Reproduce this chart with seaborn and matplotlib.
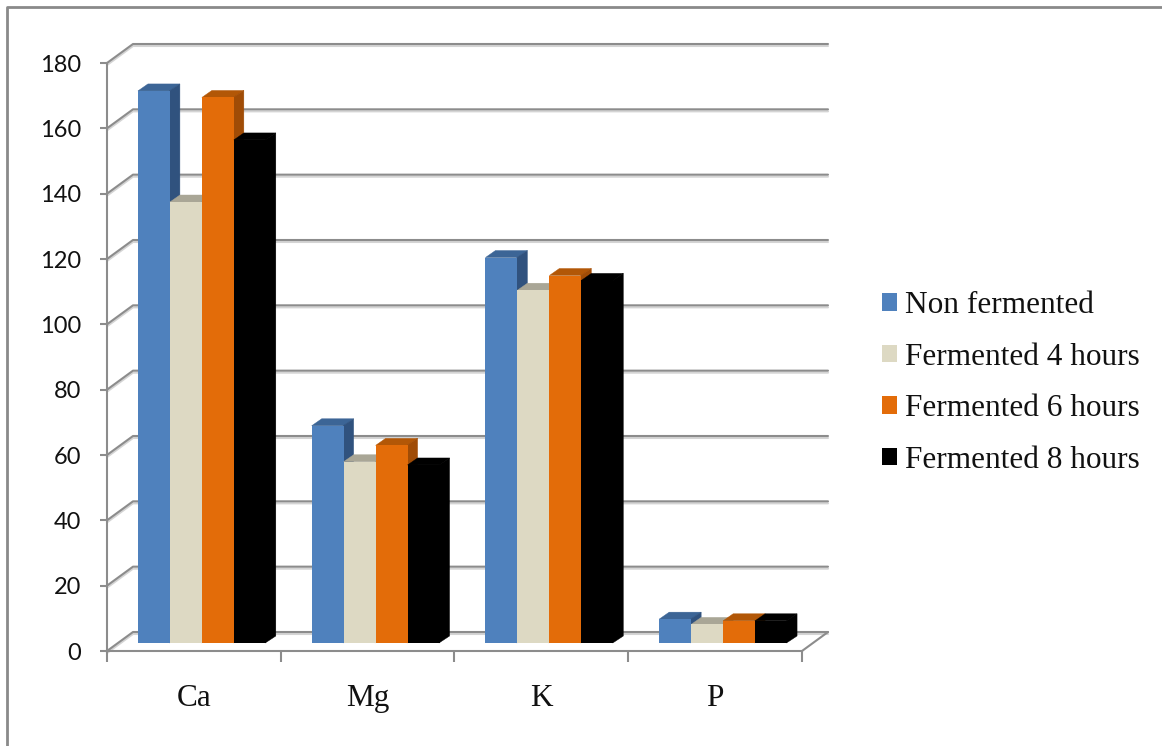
import numpy as np
import pandas as pd
import matplotlib
matplotlib.use("Agg")
import matplotlib.pyplot as plt
import seaborn as sns
from matplotlib.transforms import ScaledTranslation, IdentityTransform
from matplotlib.patches import Polygon, Patch
from matplotlib.lines import Line2D
import matplotlib.colors as mcolors

# ---- data -------------------------------------------------------------
minerals = ["Ca", "Mg", "K", "P"]
treatments = ["Non fermented", "Fermented 4 hours",
              "Fermented 6 hours", "Fermented 8 hours"]
non_fermented = [169, 66.5, 118, 7.3]
fermented_4h = [135, 55.5, 108, 5.7]
fermented_6h = [167, 60.5, 112.5, 6.8]
fermented_8h = [154, 54.5, 111, 6.8]
y_ticks = list(range(0, 181, 20))

front_colors = ["#4F81BD", "#DDD9C3", "#E36C09", "#000000"]
top_colors = ["#3C6596", "#A9A696", "#B25707", "#000000"]
side_colors = ["#30527E", "#A19E8E", "#A04C06", "#000000"]

df = pd.DataFrame({
    "Mineral": minerals * 4,
    "Treatment": np.repeat(treatments, len(minerals)),
    "Value": non_fermented + fermented_4h + fermented_6h + fermented_8h,
})

# ---- figure -----------------------------------------------------------
W, H, DPI = 1162, 746, 100
GRID = "#8c8c8c"
GRID_SHADOW = "#d4d4d4"
LW = 1.5

sns.set_theme(style="white")
plt.rcParams["font.family"] = ["Liberation Serif", "DejaVu Serif"]

fig = plt.figure(figsize=(W / DPI, H / DPI), dpi=DPI)
fig.patch.set_facecolor("white")
ax = fig.add_axes([107 / W, 1 - 651 / H, (802 - 107) / W, (651 - 63) / H])
ax.set_facecolor("none")

sns.barplot(data=df, x="Mineral", y="Value", hue="Treatment",
            hue_order=treatments, order=minerals, palette=front_colors,
            saturation=1, width=0.736, gap=0, errorbar=None,
            linewidth=0, legend=False, ax=ax)

ax.set_xlim(-0.5, 3.5)
ax.set_ylim(0, 180)
ax.set_xlabel("")
ax.set_ylabel("")

# ---- pseudo-3D depth --------------------------------------------------
BACK = np.array([26.0, 19.0])   # back wall offset in pixels
BAR_SHIFT = np.array([8.0, 8.0])  # bars sit part way into the depth
BAR_DEPTH = np.array([10.0, 7.0])


def disp(x, y):
    return np.array(ax.transData.transform((x, y)))


# back wall gridlines with side-wall diagonals
for v in y_ticks:
    p0 = disp(-0.5, v)
    p1 = p0 + BACK
    p2 = disp(3.5, v) + BACK
    xs = [p0[0], p1[0], p2[0]]
    ys = [p0[1], p1[1], p2[1]]
    ax.add_line(Line2D(xs, [y - 2 for y in ys], color=GRID_SHADOW, lw=LW,
                       transform=IdentityTransform(), clip_on=False, zorder=0.5))
    ax.add_line(Line2D(xs, ys, color=GRID, lw=LW,
                       transform=IdentityTransform(), clip_on=False, zorder=0.6))

# floor right edge
f0 = disp(3.5, 0)
f1 = f0 + BACK
ax.add_line(Line2D([f0[0], f1[0]], [f0[1], f1[1]], color=GRID, lw=LW,
                   transform=IdentityTransform(), clip_on=False, zorder=0.6))

# bars: shift into the depth and add top / side faces
bars = sorted(ax.patches, key=lambda p: p.get_x())
shift = ScaledTranslation(BAR_SHIFT[0] / DPI, BAR_SHIFT[1] / DPI,
                          fig.dpi_scale_trans)
rgb_front = [mcolors.to_rgb(c) for c in front_colors]
for i, p in enumerate(bars):
    fc = mcolors.to_rgb(p.get_facecolor())
    k = int(np.argmin([np.sum((np.array(fc) - np.array(c)) ** 2)
                       for c in rgb_front]))
    x0, y0 = p.get_x(), p.get_y()
    x1, y1 = x0 + p.get_width(), y0 + p.get_height()
    br = disp(x1, y0) + BAR_SHIFT
    tl = disp(x0, y1) + BAR_SHIFT
    tr = disp(x1, y1) + BAR_SHIFT
    # side face starts a touch inside the front face to avoid a seam
    br_in = br - np.array([0.6, 0.0])
    tr_in = tr - np.array([0.6, 0.0])
    top = Polygon([tl, tr, tr + BAR_DEPTH, tl + BAR_DEPTH], closed=True,
                  facecolor=top_colors[k], edgecolor=top_colors[k], lw=0.3,
                  transform=IdentityTransform(), clip_on=False,
                  zorder=2 + 2 * i)
    side = Polygon([br_in, br + BAR_DEPTH, tr + BAR_DEPTH, tr_in], closed=True,
                   facecolor=side_colors[k], edgecolor=side_colors[k], lw=0.3,
                   transform=IdentityTransform(), clip_on=False,
                   zorder=2 + 2 * i)
    ax.add_patch(top)
    ax.add_patch(side)
    p.set_transform(ax.transData + shift)
    p.set_clip_on(False)
    p.set_zorder(3 + 2 * i)

# ---- axes, ticks, labels ---------------------------------------------
for s in ("top", "right"):
    ax.spines[s].set_visible(False)
for s in ("left", "bottom"):
    ax.spines[s].set_color(GRID)
    ax.spines[s].set_linewidth(LW)
    ax.spines[s].set_zorder(1)

ax.set_yticks(y_ticks)
ax.set_yticklabels([str(v) for v in y_ticks], family=["Lato", "DejaVu Sans"],
                   fontsize=17, color="#111111")
ax.tick_params(axis="y", which="major", length=5, width=LW, color=GRID,
               pad=13.5, direction="out", left=True)

ax.set_xticks([-0.5, 0.5, 1.5, 2.5, 3.5], labels=[""] * 5)
ax.set_xticks(range(len(minerals)), labels=minerals, minor=True)
ax.tick_params(axis="x", which="major", length=8, width=LW, color=GRID,
               direction="out", bottom=True)
ax.tick_params(axis="x", which="minor", length=0, pad=24, labelsize=22.5,
               labelcolor="#111111")

# ---- legend -----------------------------------------------------------
handles = [Patch(facecolor=c, edgecolor="none") for c in front_colors]
fig.legend(handles, treatments, loc="center left",
           bbox_to_anchor=(882 / W, 1 - 383 / H), frameon=False,
           fontsize=22.5, handlelength=0.48, handleheight=0.48,
           handletextpad=0.26, labelspacing=0.72, borderpad=0,
           borderaxespad=0, labelcolor="#111111")

# ---- chart area border (left and top edges) --------------------------
fig.add_artist(Line2D([7, 7, W], [0, H - 7, H - 7], color="#8a8a8a",
                      lw=2.0, transform=IdentityTransform()))

fig.savefig("out.png", dpi=DPI)
